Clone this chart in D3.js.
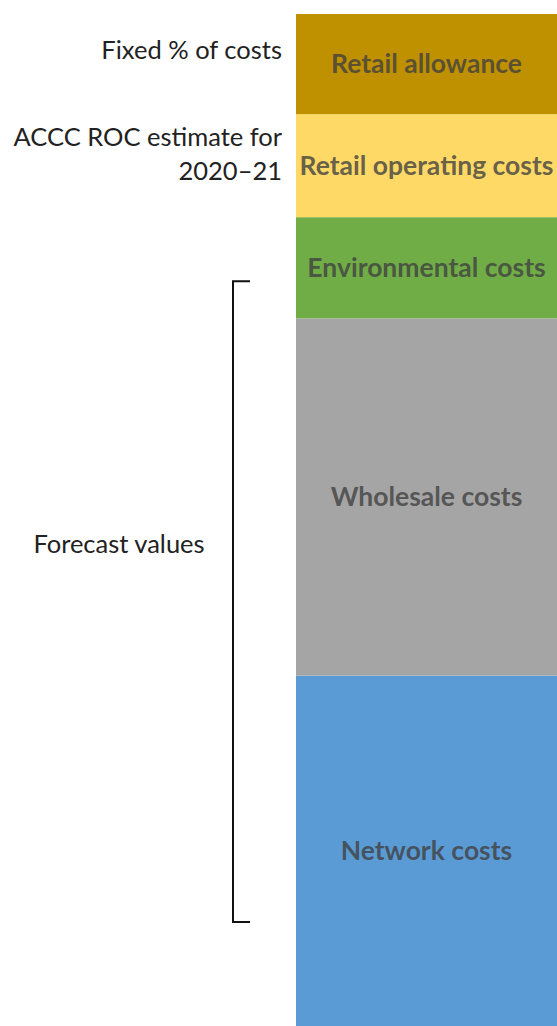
<!DOCTYPE html>
<html>
<head>
<meta charset="utf-8">
<script src="https://cdn.jsdelivr.net/npm/d3@7"></script>
<style>
  html, body { margin: 0; padding: 0; background: #fff; }
  svg { display: block; }
</style>
</head>
<body>
<svg id="chart" width="557" height="1026"></svg>
<script>
// Stacked components (bottom to top)
const categories = ["Network costs", "Wholesale costs", "Environmental costs", "Retail operating costs", "Retail allowance"];
const values = [350, 357, 101, 103, 100];
const colors = ["#5B9BD5", "#A5A5A5", "#70AD47", "#FFD966", "#BF9000"];

// Side annotations (positions in value units along the stack)
const annotations = [
  { lines: ["Fixed % of costs"], at: 975 },
  { lines: ["ACCC ROC estimate for", "2020\u201321"], at: 888 },
];
const forecastLabel = "Forecast values";
const bracketRange = [104, 744];
const forecastAt = 481;

const svg = d3.select("#chart");
const W = 557, H = 1026;
const total = d3.sum(values);

const y = d3.scaleLinear().domain([0, total]).range([H, 14]);
const x = d3.scaleBand().domain(["bill"]).range([296, 557]).padding(0);

const stackData = [Object.fromEntries(categories.map((c, i) => [c, values[i]]))];
const series = d3.stack().keys(categories)(stackData);

const g = svg.append("g");
g.selectAll("rect.seg")
  .data(series)
  .join("rect")
  .attr("class", "seg")
  .attr("x", x("bill"))
  .attr("width", x.bandwidth())
  .attr("y", d => y(d[0][1]))
  .attr("height", d => y(d[0][0]) - y(d[0][1]))
  .attr("fill", (d, i) => colors[i]);

g.selectAll("text.seglab")
  .data(series)
  .join("text")
  .attr("class", "seglab")
  .attr("x", x("bill") + x.bandwidth() / 2)
  .attr("y", d => (y(d[0][0]) + y(d[0][1])) / 2)
  .attr("dy", "0.35em")
  .attr("text-anchor", "middle")
  .attr("font-family", "Lato, 'Open Sans', sans-serif")
  .attr("font-weight", "bold")
  .attr("font-size", 26.5)
  .attr("fill", "#404040")
  .attr("fill-opacity", 0.8)
  .text(d => d.key);

// Left annotations
const ann = svg.append("g")
  .attr("font-family", "Lato, 'Open Sans', sans-serif")
  .attr("font-size", 25.5)
  .attr("fill", "#222");

annotations.forEach(a => {
  const t = ann.append("text")
    .attr("text-anchor", "end")
    .attr("y", y(a.at));
  a.lines.forEach((ln, i) => {
    t.append("tspan")
      .attr("x", 282)
      .attr("dy", i === 0 ? "0.35em" : 34)
      .text(ln);
  });
});

// Bracket
const bx = 233, bxEnd = 250;
svg.append("path")
  .attr("d", `M${bxEnd},${y(bracketRange[1])} H${bx} V${y(bracketRange[0])} H${bxEnd}`)
  .attr("fill", "none")
  .attr("stroke", "#111")
  .attr("stroke-width", 2);

ann.append("text")
  .attr("text-anchor", "middle")
  .attr("x", 119)
  .attr("y", y(forecastAt))
  .attr("dy", "0.35em")
  .text(forecastLabel);
</script>
</body>
</html>
